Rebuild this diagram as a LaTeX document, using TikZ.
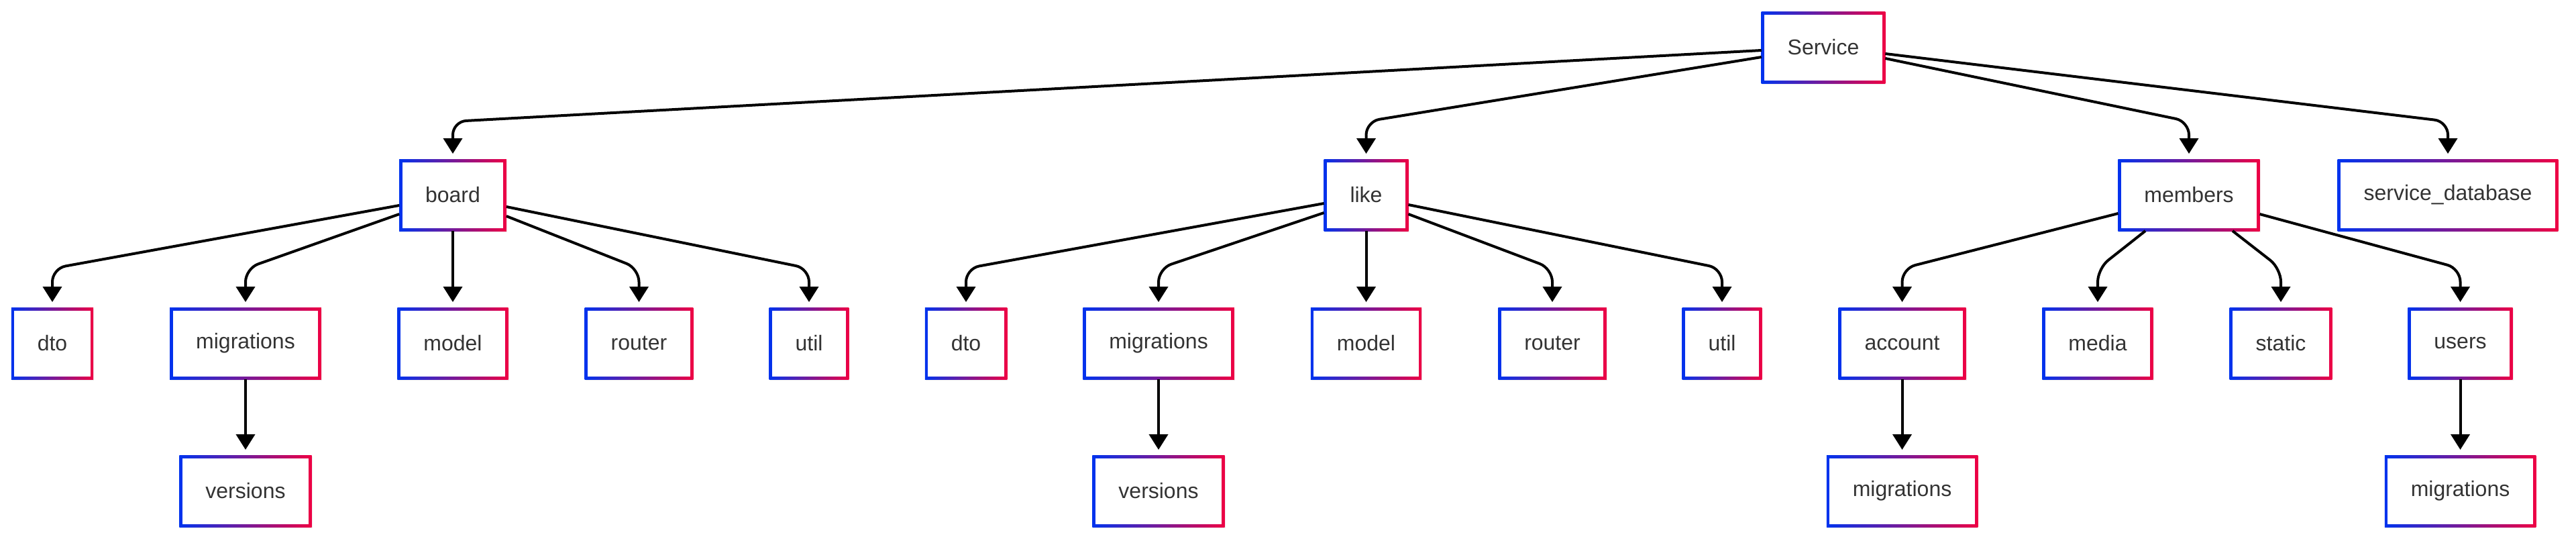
\documentclass[tikz,border=0pt]{standalone}
\usepackage{fontspec}
\setmainfont{Liberation Sans}
\usepackage{tikz}
\usetikzlibrary{arrows.meta,shadows}
\usepackage{xcolor}
\definecolor{gbleu}{HTML}{0033EE}
\definecolor{grouge}{HTML}{EE0044}
\definecolor{texte}{HTML}{333333}

\tikzset{
  dossier/.style={rectangle, fill=white, minimum height=1.07cm, inner xsep=0.39cm,
    inner ysep=0pt, outer sep=0pt, text=texte, font=\fontsize{9.1}{11}\selectfont,
    drop shadow={shadow xshift=0.01cm, shadow yshift=-0.015cm, opacity=0.12},
    path picture={
      \shade[left color=gbleu, right color=grouge]
        (path picture bounding box.south west) rectangle (path picture bounding box.north east);
      \fill[white]
        ([shift={(0.045cm,0.045cm)}]path picture bounding box.south west) rectangle
        ([shift={(-0.045cm,-0.045cm)}]path picture bounding box.north east);
    }},
  lien/.style={line width=0.04cm, rounded corners=0.2cm, shorten >=0.08cm,
    -{Triangle[width=0.28cm,length=0.23cm]}}
}

\begin{document}
\begin{tikzpicture}
      \useasboundingbox (0,0) rectangle (38.4,-8.05);
      \def\ya{-0.705}
      \def\yb{-2.905}
      \def\yc{-5.115}
      \def\yd{-7.315}

      \coordinate (n1) at (0,-1.81);
      \coordinate (n2) at (0,-4.00);

      % Noeuds
      \node[dossier] (svc) at (27.18,\ya) {Service};

      \node[dossier] (board) at (6.75,\yb) {board};
      \node[dossier] (like) at (20.365,\yb) {like};
      \node[dossier] (members) at (32.63,\yb) {members};
      \node[dossier] (sdb) at (36.49,\yb) {service\_database};

      \node[dossier] (bdto) at (0.78,\yc) {dto};
      \node[dossier] (bmig) at (3.66,\yc) {migrations};
      \node[dossier] (bmodel) at (6.75,\yc) {model};
      \node[dossier] (brouter) at (9.525,\yc) {router};
      \node[dossier] (butil) at (12.06,\yc) {util};

      \node[dossier] (ldto) at (14.40,\yc) {dto};
      \node[dossier] (lmig) at (17.27,\yc) {migrations};
      \node[dossier] (lmodel) at (20.365,\yc) {model};
      \node[dossier] (lrouter) at (23.14,\yc) {router};
      \node[dossier] (lutil) at (25.67,\yc) {util};

      \node[dossier] (account) at (28.355,\yc) {account};
      \node[dossier] (media) at (31.27,\yc) {media};
      \node[dossier] (static) at (34.00,\yc) {static};
      \node[dossier] (users) at (36.675,\yc) {users};

      \node[dossier] (bver) at (3.66,\yd) {versions};
      \node[dossier] (lver) at (17.27,\yd) {versions};
      \node[dossier] (amig) at (28.355,\yd) {migrations};
      \node[dossier] (umig) at (36.675,\yd) {migrations};

      % Liens depuis Service
      \draw[lien] ([yshift=-0.045cm]svc.west) -- (board.north |- n1) -- (board.north);
      \draw[lien] ([yshift=-0.145cm]svc.west) -- (like.north |- n1) -- (like.north);
      \draw[lien] ([yshift=-0.165cm]svc.east) -- (members.north |- n1) -- (members.north);
      \draw[lien] ([yshift=-0.095cm]svc.east) -- (sdb.north |- n1) -- (sdb.north);

      % Liens depuis board et like
      \draw[lien] ([yshift=-0.155cm]board.west) -- (bdto.north |- n2) -- (bdto.north);
      \draw[lien] ([yshift=-0.285cm]board.west) -- (bmig.north |- n2) -- (bmig.north);
      \draw[lien] ([yshift=-0.315cm]board.east) -- (brouter.north |- n2) -- (brouter.north);
      \draw[lien] ([yshift=-0.175cm]board.east) -- (butil.north |- n2) -- (butil.north);

      \draw[lien] ([yshift=-0.125cm]like.west) -- (ldto.north |- n2) -- (ldto.north);
      \draw[lien] ([yshift=-0.265cm]like.west) -- (lmig.north |- n2) -- (lmig.north);
      \draw[lien] ([yshift=-0.285cm]like.east) -- (lrouter.north |- n2) -- (lrouter.north);
      \draw[lien] ([yshift=-0.145cm]like.east) -- (lutil.north |- n2) -- (lutil.north);

      % Liens depuis members
      \draw[lien] ([yshift=-0.275cm]members.west) -- (account.north |- n2) -- (account.north);
      \draw[lien] ([xshift=-0.65cm]members.south) -- (media.north |- n2) -- (media.north);
      \draw[lien] ([xshift=0.65cm]members.south) -- (static.north |- n2) -- (static.north);
      \draw[lien] ([yshift=-0.285cm]members.east) -- (users.north |- n2) -- (users.north);

      % Liens verticaux
      \foreach \a/\b in {board/bmodel, like/lmodel, bmig/bver, lmig/lver, account/amig, users/umig}
        \draw[lien] (\a.south) -- (\b.north);
\end{tikzpicture}
\end{document}
